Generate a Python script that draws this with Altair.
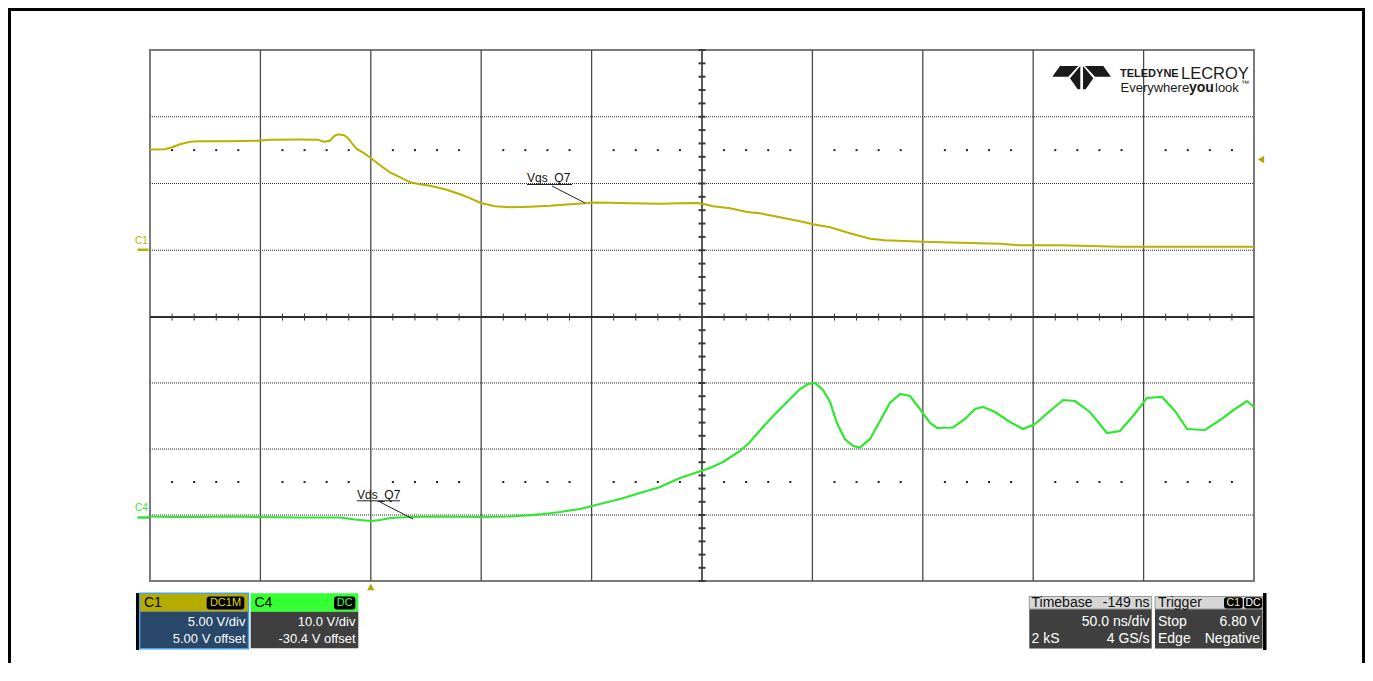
import altair as alt
import pandas as pd

# ---------------- trace data ----------------
# C1 (Vgs_Q7), 5 V/div, time in ns from left edge of the screen
c1_time_ns = [0, 6.8, 10, 13.6, 18.1, 22.6, 36.2, 48.5, 54.3, 67.9, 76.1, 78.8, 81.5, 83.3, 85.1,
              87.9, 89.7, 91.5, 93.8, 96.9, 100.1, 104.2, 108.7, 113.2, 117.8, 122.3, 126.8, 133.6,
              140.4, 144.9, 149.5, 156.3, 163.0, 172.1, 181.2, 190.2, 197.0, 200.2, 208.3, 217.4,
              231.0, 240.0, 247.7, 251.4, 255.0, 262.7, 270.4, 276.3, 285.3, 294.4, 300.3, 308.0,
              317.0, 326.1, 332.9, 350.1, 366.8, 385.0, 394.0, 412.1, 430.3, 439.3, 452.9, 475.5, 500]
c1_volts = [7.54, 7.57, 7.72, 7.94, 8.13, 8.16, 8.16, 8.20, 8.28, 8.29, 8.28, 8.13, 8.20, 8.54, 8.69,
            8.61, 8.39, 8.01, 7.57, 7.27, 6.89, 6.37, 5.84, 5.47, 5.09, 4.94, 4.83, 4.57,
            4.19, 3.90, 3.56, 3.30, 3.22, 3.26, 3.33, 3.45, 3.52, 3.57, 3.56, 3.52,
            3.48, 3.52, 3.54, 3.45, 3.30, 3.15, 2.87, 2.77, 2.47, 2.17, 1.95, 1.72,
            1.27, 0.86, 0.75, 0.64, 0.56, 0.49, 0.37, 0.37, 0.30, 0.26, 0.26, 0.26, 0.26]

# C4 (Vds_Q7), 10 V/div
c4_time_ns = [0, 9.1, 22.6, 36.2, 49.8, 67.9, 86.1, 92.8, 100.1, 104.2, 108.7, 117.8, 131.3, 149.5,
              163.0, 176.6, 185.7, 194.7, 203.8, 212.9, 221.9, 231.0, 240.0, 246.8, 253.6, 259.5,
              267.2, 271.7, 277.6, 283.1, 289.9, 294.4, 298.0, 301.2, 304.8, 308.0, 311.1, 314.7,
              318.4, 321.5, 326.1, 330.6, 335.1, 339.7, 344.2, 348.7, 353.3, 356.4, 363.7, 369.1,
              373.6, 377.3, 382.7, 389.5, 395.4, 400.8, 407.6, 413.5, 418.9, 425.7, 433.4, 439.3,
              445.2, 451.5, 458.3, 464.2, 469.7, 477.8, 484.6, 491.4, 496.8, 500.0]
c4_volts = [-0.23, -0.30, -0.30, -0.23, -0.30, -0.38, -0.38, -0.68, -0.91, -0.76, -0.45, -0.30, -0.23, -0.30,
            -0.23, 0.08, 0.45, 0.91, 1.67, 2.42, 3.33, 4.24, 5.61, 6.36, 7.12, 8.03,
            9.70, 11.06, 13.33, 15.30, 17.58, 19.09, 19.85, 20.00, 18.94, 17.12, 13.94, 11.52,
            10.45, 10.23, 11.52, 14.24, 16.97, 18.33, 18.03, 16.06, 13.94, 13.18, 13.26, 14.55,
            16.06, 16.36, 15.61, 14.09, 13.03, 13.79, 15.76, 17.42, 17.27, 15.61, 12.42, 12.73,
            15.00, 17.73, 17.88, 15.76, 13.03, 12.88, 14.39, 16.06, 17.27, 16.36]

# ---------------- graticule ----------------
grid_times = [50, 100, 150, 200, 300, 350, 400, 450]
center_time = 250
c1_grid_volts = [0, 5, 10]
c4_grid_volts = [0, 10, 20]
c1_tick_volts = list(range(-5, 16, 1))
c4_tick_volts = list(range(-10, 31, 2))
minor_times = [t for t in range(10, 500, 10) if t % 50 != 0]
c1_dot_volts = 7.5
c4_dot_volts = 5.0
trigger_time = 100
trigger_volts = 6.8

# ---------------- labels ----------------
c1_panel = ["C1", "DC1M", "5.00 V/div", "5.00 V offset"]
c4_panel = ["C4", "DC", "10.0 V/div", "-30.4 V offset"]
tb_panel = ["Timebase", "-149 ns", "50.0 ns/div", "2 kS", "4 GS/s"]
trig_panel = ["Trigger", "C1", "DC", "Stop", "6.80 V", "Edge", "Negative"]
trace_names = ["Vgs_Q7", "Vds_Q7"]

FONT = "Liberation Sans, Arial, sans-serif"
C1_COL = "#b9b100"
C4_COL = "#2ee82e"

W, H = 1104, 531
TX = alt.Scale(domain=[0, 500], range=[0, W], nice=False, zero=False)
TY = alt.Scale(domain=[-5, 15], range=[267, 0], nice=False, zero=False)
BY = alt.Scale(domain=[-10, 30], range=[H, 267], nice=False, zero=False)
# page-pixel scales for the surrounding screen furniture
PX = alt.Scale(domain=[0, 1000], range=[-150, 850], nice=False, zero=False)
PY = alt.Scale(domain=[0, 1000], range=[-50, 950], nice=False, zero=False)


def X(f, sc):
    return alt.X(f + ":Q", scale=sc, axis=None)


def Y(f, sc):
    return alt.Y(f + ":Q", scale=sc, axis=None)


def rects(rows, **kw):
    df = pd.DataFrame(rows, columns=["x1", "y1", "x2", "y2", "fill"])
    return alt.Chart(df).mark_rect(**kw).encode(
        x=X("x1", PX), x2="x2:Q", y=Y("y1", PY), y2="y2:Q",
        color=alt.Color("fill:N", scale=None))


def frames(rows, color, width):
    df = pd.DataFrame(rows, columns=["x1", "y1", "x2", "y2"])
    return alt.Chart(df).mark_rect(fillOpacity=0, stroke=color, strokeWidth=width).encode(
        x=X("x1", PX), x2="x2:Q", y=Y("y1", PY), y2="y2:Q")


def segs(rows, color, width):
    df = pd.DataFrame(rows, columns=["x1", "y1", "x2", "y2"])
    return alt.Chart(df).mark_rule(color=color, strokeWidth=width).encode(
        x=X("x1", PX), x2="x2:Q", y=Y("y1", PY), y2="y2:Q")


def texts(rows, align="left", size=13, weight="normal", font=FONT):
    df = pd.DataFrame(rows, columns=["x", "y", "label", "col"])
    return alt.Chart(df).mark_text(align=align, baseline="middle", font=font,
                                   fontSize=size, fontWeight=weight).encode(
        x=X("x", PX), y=Y("y", PY), text="label:N",
        color=alt.Color("col:N", scale=None))


layers = []

# ---- graticule ----
layers.append(alt.Chart(pd.DataFrame({"t": grid_times})).mark_rule(
    color="#4a4a4a", strokeWidth=1.3).encode(x=X("t", TX), y=alt.value(0), y2=alt.value(H)))
layers.append(alt.Chart(pd.DataFrame({"v": c1_grid_volts})).mark_rule(
    color="#333333", strokeWidth=1, strokeDash=[1, 1]).encode(y=Y("v", TY), x=alt.value(0), x2=alt.value(W)))
layers.append(alt.Chart(pd.DataFrame({"v": c4_grid_volts})).mark_rule(
    color="#333333", strokeWidth=1, strokeDash=[1, 1]).encode(y=Y("v", BY), x=alt.value(0), x2=alt.value(W)))
layers.append(alt.Chart(pd.DataFrame({"t": minor_times, "v": [c1_dot_volts] * len(minor_times)})).mark_square(
    size=4, color="#222222", opacity=1).encode(x=X("t", TX), y=Y("v", TY)))
layers.append(alt.Chart(pd.DataFrame({"t": minor_times, "v": [c4_dot_volts] * len(minor_times)})).mark_square(
    size=4, color="#222222", opacity=1).encode(x=X("t", TX), y=Y("v", BY)))
layers.append(alt.Chart(pd.DataFrame({"t": [center_time]})).mark_rule(
    color="#5a5a5a", strokeWidth=2).encode(x=X("t", TX), y=alt.value(0), y2=alt.value(H)))
layers.append(alt.Chart(pd.DataFrame({"v": [-5]})).mark_rule(
    color="#2e2e2e", strokeWidth=2).encode(y=Y("v", TY), x=alt.value(0), x2=alt.value(W)))
layers.append(alt.Chart(pd.DataFrame({"t": [center_time] * len(c1_tick_volts), "v": c1_tick_volts})).mark_rule(
    color="#3a3a3a", strokeWidth=2, xOffset=-3.5, x2Offset=3.5).encode(x=X("t", TX), x2="t:Q", y=Y("v", TY)))
layers.append(alt.Chart(pd.DataFrame({"t": [center_time] * len(c4_tick_volts), "v": c4_tick_volts})).mark_rule(
    color="#3a3a3a", strokeWidth=2, xOffset=-3.5, x2Offset=3.5).encode(x=X("t", TX), x2="t:Q", y=Y("v", BY)))
layers.append(alt.Chart(pd.DataFrame({"t": minor_times, "v": [-5] * len(minor_times)})).mark_rule(
    color="#3a3a3a", strokeWidth=1, yOffset=-3.5, y2Offset=3.5).encode(x=X("t", TX), y=Y("v", TY), y2="v:Q"))

# ---- traces ----
layers.append(alt.Chart(pd.DataFrame({"t": c1_time_ns, "v": c1_volts})).mark_line(
    color=C1_COL, strokeWidth=2).encode(x=X("t", TX), y=Y("v", TY)))
layers.append(alt.Chart(pd.DataFrame({"t": c4_time_ns, "v": c4_volts})).mark_line(
    color=C4_COL, strokeWidth=2.2).encode(x=X("t", TX), y=Y("v", BY)))

# ---- channel ground markers & trigger markers ----
layers.append(segs([(137.5, 249.8, 148.5, 249.8)], C1_COL, 2.5))
layers.append(segs([(137.5, 517.5, 149, 517.5)], C4_COL, 2.5))
layers.append(texts([(141.5, 240.5, "C1", C1_COL)], align="center", size=10))
layers.append(texts([(141.5, 507.5, "C4", C4_COL)], align="center", size=10))
layers.append(alt.Chart(pd.DataFrame({"v": [trigger_volts]})).mark_point(
    shape="triangle-left", filled=True, size=55, color="#b0a800", opacity=1).encode(
    y=Y("v", TY), x=alt.value(1111)))
layers.append(alt.Chart(pd.DataFrame({"t": [trigger_time]})).mark_point(
    shape="triangle-up", filled=True, size=55, color="#b0a800", opacity=1).encode(
    x=X("t", TX), y=alt.value(537)))

# ---- trace annotations ----
layers.append(texts([(527, 177.5, trace_names[0], "#111111"), (357, 494.5, trace_names[1], "#111111")], size=12))
layers.append(segs([(527, 184.5, 572, 184.5), (357, 500.8, 400, 500.8)], "#222222", 1))
layers.append(segs([(552, 186, 585, 203), (380, 502, 413, 519)], "#222222", 1))

# ---- logo ----
logo_polys = [
    [(1060, 66), (1078.3, 66), (1068.3, 76.7), (1052.3, 76.7)],
    [(1080.3, 66), (1080.3, 89.3), (1077.7, 89.3), (1070, 78.3)],
    [(1085, 66), (1103.3, 66), (1111, 76.7), (1095, 76.7)],
    [(1083, 66), (1083, 89.3), (1085.7, 89.3), (1093.3, 78.3)],
]
lcx, lcy, lsc = 1081.7, 77.7, 32.0
path = ""
for poly in logo_polys:
    pts = ["%.4f,%.4f" % ((px - lcx) / lsc, (py - lcy) / lsc) for px, py in poly]
    path += "M" + " L".join(pts) + " Z "
layers.append(alt.Chart(pd.DataFrame({"x": [lcx], "y": [lcy]})).mark_point(
    shape=path.strip(), filled=True, size=(2 * lsc) ** 2, color="#1a1a1a", opacity=1, strokeWidth=0).encode(
    x=X("x", PX), y=Y("y", PY)))
layers.append(texts([(1120, 73.5, "TELEDYNE", "#1a1a1a")], size=11, weight="bold"))
layers.append(texts([(1181, 73.5, "LECROY", "#1a1a1a")], size=16.5))
layers.append(texts([(1120.5, 88, "Everywhere", "#1a1a1a"), (1215, 88, "look", "#1a1a1a")], size=13))
layers.append(texts([(1189, 88, "you", "#1a1a1a")], size=14, weight="bold"))
layers.append(texts([(1241, 84, "\u2122", "#1a1a1a")], size=8))

# ---- info panels ----
layers.append(rects([
    (136, 593, 139, 650, "#000000"),
    (140, 593.5, 248, 611.5, "#b4ad00"),
    (140, 611.5, 248, 648.5, "#284769"),
    (250.7, 593.3, 358.3, 611.7, "#33ff33"),
    (250.7, 611.7, 358.3, 648.3, "#3f3f3f"),
    (1029.3, 596.5, 1151.7, 609, "#d6d6d6"),
    (1029.3, 609, 1151.7, 648.5, "#3f3f3f"),
    (1155, 596.5, 1262.5, 609, "#d6d6d6"),
    (1155, 609, 1262.5, 648.5, "#3f3f3f"),
    (1263, 593, 1266.5, 650, "#000000"),
]))
layers.append(frames([(1029.3, 596.5, 1151.7, 609), (1155, 596.5, 1262.5, 609)], "#9a9a9a", 1))
layers.append(frames([(139.7, 593.3, 248.5, 648.7)], "#4aa3ea", 1.5))
layers.append(rects([
    (206.7, 596.5, 244.3, 609.5, "#000000"),
    (334, 596.5, 355.3, 609.5, "#000000"),
    (1224, 597.3, 1242.7, 608.5, "#000000"),
    (1244, 597.3, 1262, 608.5, "#000000"),
], cornerRadius=2.5))
layers.append(texts([(144, 602.5, c1_panel[0], "#000000"), (254.5, 602.5, c4_panel[0], "#000000")], size=14))
layers.append(texts([(225.5, 603, c1_panel[1], "#e2d800"), (344.7, 603, c4_panel[1], "#44ff44")],
                    align="center", size=11))
layers.append(texts([(245.5, 621.5, c1_panel[2], "#ffffff"), (245.5, 639, c1_panel[3], "#ffffff"),
                     (355.5, 621.5, c4_panel[2], "#ffffff"), (355.5, 639, c4_panel[3], "#ffffff")],
                    align="right", size=13))
layers.append(texts([(1031.5, 602.5, tb_panel[0], "#111111"), (1158, 602.5, trig_panel[0], "#111111")], size=14))
layers.append(texts([(1149.5, 602.5, tb_panel[1], "#111111")], align="right", size=14))
layers.append(texts([(1233.3, 603, trig_panel[1], "#f0f0a0"), (1253, 603, trig_panel[2], "#ffffff")],
                    align="center", size=10.5))
layers.append(texts([(1031.5, 639, tb_panel[3], "#ffffff"), (1158, 621.5, trig_panel[3], "#ffffff"),
                     (1158, 639, trig_panel[5], "#ffffff")], size=14))
layers.append(texts([(1149.5, 621.5, tb_panel[2], "#ffffff"), (1149.5, 639, tb_panel[4], "#ffffff"),
                     (1260, 621.5, trig_panel[4], "#ffffff"), (1260, 639, trig_panel[6], "#ffffff")],
                    align="right", size=14))

# ---- outer black frame ----
layers.append(segs([(9.5, 9.5, 9.5, 663), (8, 9.5, 1365, 9.5), (1363.5, 9.5, 1363.5, 663)], "#000000", 3))

chart = alt.layer(*layers).resolve_scale(
    x="independent", y="independent", color="independent"
).properties(
    width=W, height=H,
    autosize=alt.AutoSizeParams(type="none"),
    padding={"left": 142, "top": 42, "right": 111, "bottom": 82},
    background="white",
).configure_view(stroke="#7a7a7a", strokeWidth=2, fill="white")

chart.save("out.html", embed_options={"renderer": "svg", "actions": False})
